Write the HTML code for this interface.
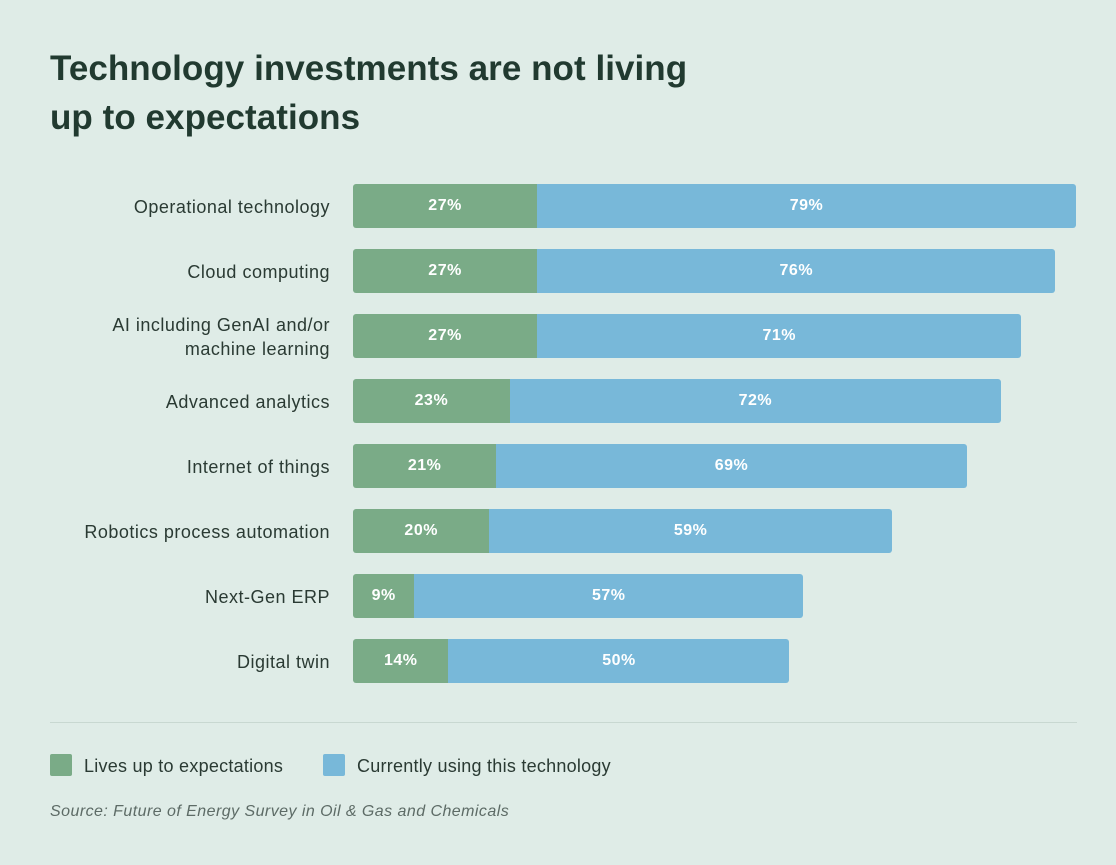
<!DOCTYPE html>
<html><head><meta charset="utf-8">
<style>
body{margin:0;width:1116px;height:865px;background:#dfece7;font-family:"Liberation Sans",sans-serif;position:relative;overflow:hidden;color:#2a3a33}
h1{position:absolute;left:50px;top:44px;margin:0;font-size:35px;line-height:49px;font-weight:bold;color:#213a30;letter-spacing:0.05px}
.lbl{position:absolute;right:786px;text-align:right;font-size:18px;line-height:24px;color:#2a3a33;letter-spacing:0.5px}
.seg{position:absolute;height:44px;color:#fff;font-weight:bold;font-size:16px;letter-spacing:0.5px;display:flex;align-items:center;justify-content:center}
.g{background:#7aab87;border-radius:3px 0 0 3px}
.b{background:#78b8d9;border-radius:0 3px 3px 0}
.leg{position:absolute;top:754px;width:22px;height:22px;border-radius:2px}
.legt{position:absolute;top:755px;font-size:18px;line-height:22px;color:#2a3a33;letter-spacing:0.25px}
</style></head><body>
<h1>Technology investments are not living<br>up to expectations</h1>
<div id="chart"></div>
<div style="position:absolute;left:50px;top:722px;width:1027px;height:1px;background:#c8d8d1"></div>
<div class="leg" style="left:50px;background:#7aab87"></div>
<div class="legt" style="left:84px">Lives up to expectations</div>
<div class="leg" style="left:323px;background:#78b8d9"></div>
<div class="legt" style="left:357px">Currently using this technology</div>
<div style="position:absolute;left:50px;top:803px;font-size:16px;font-style:italic;color:#5d6b66;letter-spacing:0.45px">Source: Future of Energy Survey in Oil &amp; Gas and Chemicals</div>
<script>
const categories=["Operational technology","Cloud computing","AI including GenAI and/or<br>machine learning","Advanced analytics","Internet of things","Robotics process automation","Next-Gen ERP","Digital twin"];
const livesUp=[27,27,27,23,21,20,9,14];
const using=[79,76,71,72,69,59,57,50];
const x0=353,pxPer=6.82,tops=184,step=65.0;
const c=document.getElementById('chart');
function xs(v){return v*pxPer;}
categories.forEach((cat,i)=>{
  const top=tops+i*step;
  const l=document.createElement('div');l.className='lbl';l.innerHTML=cat;
  
  
  const lines=cat.includes('<br>')?2:1;
  l.style.top=(top+23-lines*12)+'px';c.appendChild(l);
  const g=document.createElement('div');g.className='seg g';
  
  
  g.style.left=x0+'px';g.style.top=top+'px';g.style.width=xs(livesUp[i])+'px';g.textContent=livesUp[i]+'%';c.appendChild(g);
  const b=document.createElement('div');b.className='seg b';
  
  
  b.style.left=(x0+xs(livesUp[i]))+'px';b.style.top=top+'px';b.style.width=xs(using[i])+'px';b.textContent=using[i]+'%';c.appendChild(b);
});
</script>
</body></html>
